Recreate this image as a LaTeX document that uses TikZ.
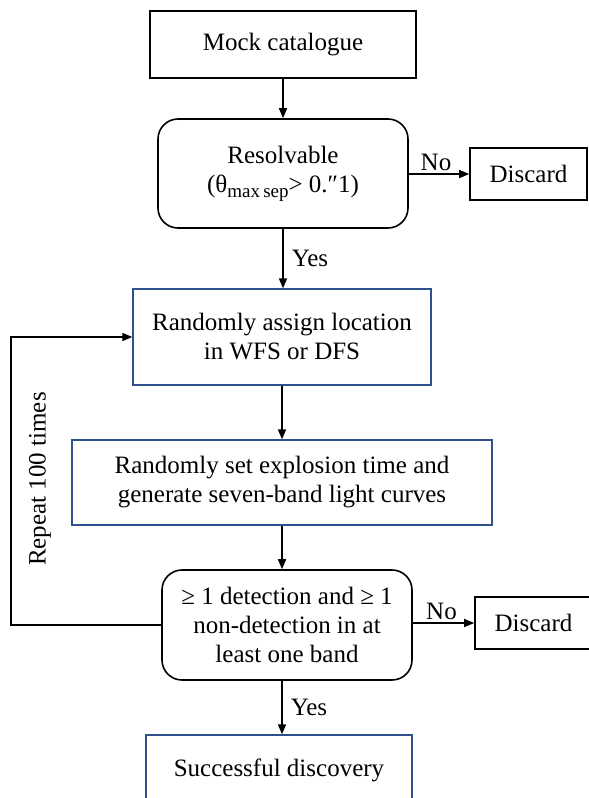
\documentclass[tikz,border=0pt]{standalone}
\usepackage{fontspec}
\setmainfont{Liberation Serif}
\usetikzlibrary{arrows.meta}
\definecolor{boxblue}{RGB}{47,82,143}
\begin{document}
\begin{tikzpicture}[x=1pt,y=-1pt,
  every node/.style={font=\fontsize{25}{29}\selectfont, align=center, inner sep=0pt},
  plainbox/.style={draw=black, line width=1.6pt, rectangle},
  roundbox/.style={draw=black, line width=1.6pt, rectangle, rounded corners=20pt},
  bluebox/.style={draw=boxblue, line width=1.4pt, rectangle},
  arr/.style={line width=1.6pt, -{Triangle[length=10pt,width=8pt]}},
  lbl/.style={font=\fontsize{25}{29}\selectfont}
]
\useasboundingbox (0,0) rectangle (589,798);
\clip (0,0) rectangle (589,798);

\node[plainbox, minimum width=266pt, minimum height=67pt] (mock) at (283,44.5) {Mock catalogue};
\node[roundbox, minimum width=250pt, minimum height=109pt] (res) at (283,173.5)
  {Resolvable\\(θ\raisebox{-0.45ex}{\fontsize{19}{19}\selectfont max\,sep}> 0.″1)};
\node[plainbox, minimum width=117pt, minimum height=52pt] (dis1) at (528.5,174) {Discard};
\node[bluebox, minimum width=298pt, minimum height=96pt] (loc) at (282,337) {Randomly assign location\\in WFS or DFS};
\node[bluebox, minimum width=420pt, minimum height=85pt] (exp) at (282,482.5) {Randomly set explosion time and\\generate seven-band light curves};
\node[roundbox, minimum width=250pt, minimum height=110pt] (det) at (287,625) {≥ 1 detection and ≥ 1\\non-detection in at\\least one band};
\node[plainbox, minimum width=117pt, minimum height=52pt] (dis2) at (533.5,623) {Discard};
\node[bluebox, minimum width=266pt, minimum height=70pt] (succ) at (279,770) {Successful discovery};

\coordinate (lp) at (11,0);
\coordinate (ax) at (282,0);

\draw[arr] (mock.south) -- (res.north);
\draw[arr] (res.south) -- (res.south |- loc.north) node[lbl, midway, right=8pt] {Yes};
\draw[arr] (res.east |- dis1.west) -- (dis1.west) node[lbl, midway, above=2pt, xshift=-3pt] {No};
\draw[arr] (ax |- loc.south) -- (ax |- exp.north);
\draw[arr] (ax |- exp.south) -- (ax |- det.north);
\draw[arr] (det.east |- dis2.west) -- (dis2.west) node[lbl, midway, above=2pt, xshift=-2pt] {No};
\draw[arr] (ax |- det.south) -- (ax |- succ.north) node[lbl, midway, right=8pt] {Yes};
\draw[arr] (det.west) -- (lp |- det.west) |- (loc.west);
\node[rotate=90] (rep) at (40,479) {Repeat 100 times};
\end{tikzpicture}
\end{document}
